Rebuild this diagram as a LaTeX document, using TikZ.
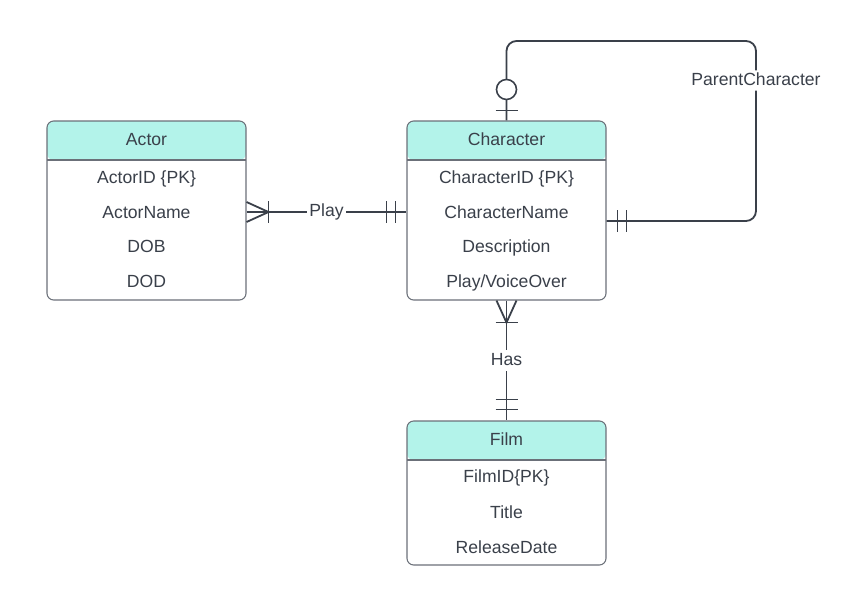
\documentclass[tikz,border=0pt]{standalone}
\usepackage{fontspec}
\setmainfont{Liberation Sans}
\usetikzlibrary{calc, positioning}
\definecolor{headTeal}{HTML}{B3F3EA}
\definecolor{boxGray}{HTML}{6B7079}
\definecolor{inkDark}{HTML}{3A404A}

\begin{document}
\begin{tikzpicture}[x=0.75pt, y=-0.75pt]

% --- Styles ---
\tikzset{
    entity/.style={draw=boxGray, fill=white, line width=0.8pt, rounded corners=5pt, inner sep=0pt,
        minimum width=149.25pt, minimum height=#1,
        path picture={
            \fill[headTeal] (path picture bounding box.north west) rectangle ($(path picture bounding box.north east)+(0,-29.25pt)$);
            \draw[boxGray, line width=0.8pt] ($(path picture bounding box.north west)+(0,-29.25pt)$) -- ($(path picture bounding box.north east)+(0,-29.25pt)$);
        }},
    entity/.default=134.25pt,
    fieldText/.style={text=inkDark, inner sep=1pt, text height=9.6pt, text depth=2.6pt, font=\fontsize{13.2}{15}\selectfont},
    relLine/.style={draw=inkDark, line width=1.35pt},
    relLabel/.style={fill=white, text=inkDark, inner sep=1.5pt, text height=9.6pt, text depth=2.6pt, font=\fontsize{13.2}{15}\selectfont},
    optCircle/.style={circle, draw=inkDark, fill=white, line width=1.2pt, minimum size=15pt, inner sep=0pt},
}

\useasboundingbox (0,0) rectangle (858,601);

% --- Entities ---
\node[entity] (actor) at (146.5,210.5) {};
\node[entity] (character) at (506.5,210.5) {};
\node[entity=108pt] (film) at (506.5,493) {};

\node[fieldText] (actortitle) at (146.5,141) {Actor};
\node[fieldText] (chartitle) at (506.5,141) {Character};
\node[fieldText] (filmtitle) at (506.5,441) {Film};

\foreach \txt [count=\i] in {ActorID \{PK\}, ActorName, DOB, DOD}
    \node[fieldText] (actorrow\i) at (146.5,144+34.7*\i) {\txt};
\foreach \txt [count=\i] in {CharacterID \{PK\}, CharacterName, Description, Play/VoiceOver}
    \node[fieldText] (charrow\i) at (506.5,144+34.7*\i) {\txt};
\foreach \txt [count=\i] in {FilmID\{PK\}, Title, ReleaseDate}
    \node[fieldText] (filmrow\i) at (506.5,442.5+35.5*\i) {\txt};

% --- Play: many actors to one character ---
\draw[relLine] ($(actor.east)+(0,1.5)$) -- node[relLabel] (playlbl) {Play} ($(character.west)+(0,1.5)$);
\draw[relLine] ($(actor.east)+(0,-8.5)$) -- ($(actor.east)+(22,1.5)$) -- ($(actor.east)+(0,11.5)$);
\draw[relLine] ($(actor.east)+(22,-9.5)$) -- ($(actor.east)+(22,12.5)$);
\draw[relLine] ($(character.west)+(-11,-9.5)$) -- ($(character.west)+(-11,12.5)$);
\draw[relLine] ($(character.west)+(-20,-9.5)$) -- ($(character.west)+(-20,12.5)$);

% --- Has: many characters to one film ---
\draw[relLine] (character.south) -- node[relLabel] (haslbl) {Has} (film.north);
\draw[relLine] ($(character.south)+(-10,0)$) -- ($(character.south)+(0,22)$) -- ($(character.south)+(10,0)$);
\draw[relLine] ($(character.south)+(-11,22)$) -- ($(character.south)+(11,22)$);
\draw[relLine] ($(film.north)+(-11,-11)$) -- ($(film.north)+(11,-11)$);
\draw[relLine] ($(film.north)+(-11,-21)$) -- ($(film.north)+(11,-21)$);

% --- ParentCharacter: self relation ---
\coordinate (selfout) at ($(character.east)+(0,10.5)$);
\coordinate (loopcorner) at (756,41);
\draw[relLine, rounded corners=7.5pt] (selfout) -| node[relLabel, pos=0.89] (parentlbl) {ParentCharacter} (loopcorner) -| (character.north);
\draw[relLine] ($(selfout)+(11,-11)$) -- ($(selfout)+(11,11)$);
\draw[relLine] ($(selfout)+(20,-11)$) -- ($(selfout)+(20,11)$);
\node[optCircle] (parentopt) at ($(character.north)+(0,-31)$) {};
\draw[relLine] ($(character.north)+(-11,-10)$) -- ($(character.north)+(11,-10)$);

\end{tikzpicture}
\end{document}
